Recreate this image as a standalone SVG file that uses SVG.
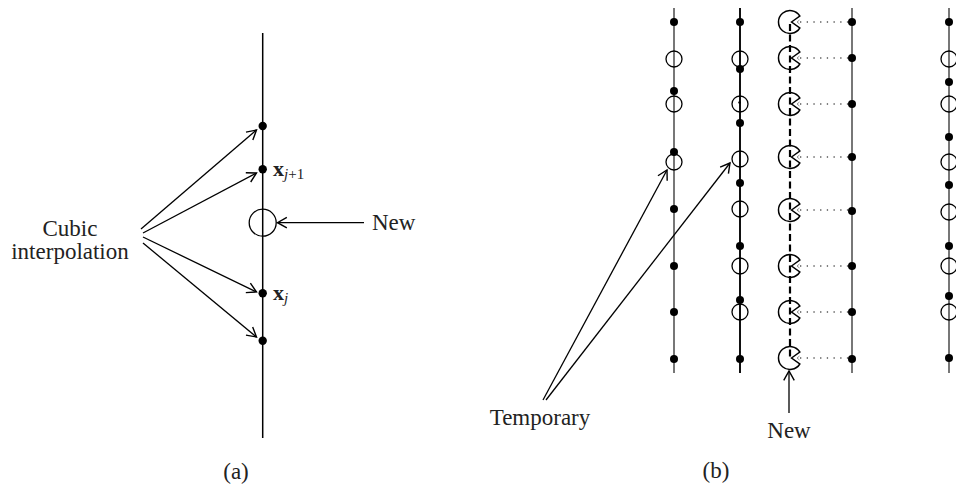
<svg xmlns="http://www.w3.org/2000/svg" width="956" height="487" viewBox="0 0 956 487">
<defs>
<marker id="ah" markerUnits="userSpaceOnUse" markerWidth="14" markerHeight="14" viewBox="-10 -6 12 12" refX="0" refY="0" orient="auto">
<path d="M-8,-4.5 L0,0 L-8,4.5" fill="none" stroke="#000" stroke-width="1.2"/>
</marker>
<g id="pac"><path d="M1.5,0 L9.8,-6 A11.5,11.5 0 1 0 9.8,6 Z" fill="none" stroke="#000" stroke-width="1.5"/><path d="M9.5,-2 L7,0 L9.5,2" fill="none" stroke="#777" stroke-width="0.8"/></g>
</defs>
<style>
text{font-family:"Liberation Serif","DejaVu Serif",serif;fill:#222}
.lbl{font-size:23px}
.axis{stroke:#000;stroke-width:1.5;fill:none}
.gray{stroke:#555;stroke-width:1.6;fill:none}
.blk{stroke:#111;stroke-width:2;fill:none}
.dot{fill:#000}
.oc{fill:none;stroke:#000;stroke-width:1.3}
.conn{stroke:#000;stroke-width:1.3;fill:none;marker-end:url(#ah)}
.dotted{stroke:#555;stroke-width:1.3;stroke-dasharray:1.3 5.4;fill:none}
.dash{stroke:#000;stroke-width:2.2;stroke-dasharray:7 3.5;fill:none}
</style>
<rect width="956" height="487" fill="#fff"/>

<!-- Panel (a) -->
<g id="a-axis">
<line class="axis" x1="262.7" y1="33" x2="262.7" y2="438"/>
<circle class="dot" cx="262.7" cy="126" r="4.2"/>
<circle class="dot" cx="262.7" cy="169.3" r="4.2"/>
<circle class="dot" cx="262.7" cy="293.3" r="4.2"/>
<circle class="dot" cx="262.7" cy="340.7" r="4.2"/>
</g>
<g id="a-new-node">
<circle cx="262.7" cy="222.7" r="13.5" fill="none" stroke="#000" stroke-width="1.3"/>
</g>
<g id="a-labels">
<text x="273" y="176" font-size="22" font-weight="bold">x<tspan font-size="15" font-style="italic" font-weight="normal" dy="3">j</tspan><tspan font-size="15" font-weight="normal">+1</tspan></text>
<text x="273" y="300" font-size="22" font-weight="bold">x<tspan font-size="15" font-style="italic" font-weight="normal" dy="3">j</tspan></text>
<text class="lbl" x="70" y="236" text-anchor="middle">Cubic</text>
<text class="lbl" x="70" y="259" text-anchor="middle">interpolation</text>
<text class="lbl" x="372" y="230">New</text>
<text class="lbl" x="236" y="479" text-anchor="middle">(a)</text>
</g>
<g id="a-connectors">
<line class="conn" x1="141" y1="229" x2="256.5" y2="130"/>
<line class="conn" x1="143" y1="233" x2="256.5" y2="173"/>
<line class="conn" x1="143" y1="237" x2="256.5" y2="292"/>
<line class="conn" x1="143" y1="243" x2="256.5" y2="337"/>
<line class="conn" x1="364" y1="222.7" x2="277.5" y2="222.7"/>
</g>

<!-- Panel (b) -->
<g id="b-line1">
<line class="gray" x1="674" y1="8" x2="674" y2="373"/>
<circle class="dot" cx="674" cy="22" r="4"/>
<circle class="oc" cx="674" cy="59" r="8"/>
<circle class="dot" cx="674" cy="91" r="4"/>
<circle class="oc" cx="674" cy="104" r="8"/>
<circle class="dot" cx="674" cy="152" r="4"/>
<circle class="oc" cx="674" cy="162" r="8"/>
<circle class="dot" cx="674" cy="209" r="4"/>
<circle class="dot" cx="674" cy="266" r="4"/>
<circle class="dot" cx="674" cy="312" r="4"/>
<circle class="dot" cx="674" cy="359" r="4"/>
</g>
<g id="b-line2">
<line class="blk" x1="740" y1="8" x2="740" y2="373"/>
<circle class="dot" cx="740" cy="22" r="4"/>
<circle class="oc" cx="740" cy="59" r="8"/>
<circle class="dot" cx="740" cy="69" r="4"/>
<circle class="oc" cx="740" cy="104" r="8"/>
<circle class="dot" cx="739.5" cy="102.5" r="1.2"/>
<circle class="dot" cx="740" cy="123" r="4"/>
<circle class="oc" cx="740" cy="159" r="8"/>
<circle class="dot" cx="740" cy="183" r="4"/>
<circle class="oc" cx="740" cy="209" r="8"/>
<circle class="dot" cx="740" cy="246" r="4"/>
<circle class="oc" cx="740" cy="266" r="8"/>
<circle class="dot" cx="740" cy="300" r="4"/>
<circle class="oc" cx="740" cy="312" r="8"/>
<circle class="dot" cx="740" cy="359" r="4"/>
</g>
<g id="b-line3">
<line class="dash" x1="790" y1="24" x2="790" y2="358"/>
<use href="#pac" x="790" y="22"/>
<use href="#pac" x="790" y="58"/>
<use href="#pac" x="790" y="104"/>
<use href="#pac" x="790" y="157"/>
<use href="#pac" x="790" y="210"/>
<use href="#pac" x="790" y="266"/>
<use href="#pac" x="790" y="312"/>
<use href="#pac" x="790" y="358"/>
</g>
<g id="b-line4">
<line class="gray" x1="852" y1="8" x2="852" y2="373"/>
<circle class="dot" cx="852" cy="22" r="4"/>
<circle class="dot" cx="852" cy="58" r="4"/>
<circle class="dot" cx="852" cy="104" r="4"/>
<circle class="dot" cx="852" cy="157" r="4"/>
<circle class="dot" cx="852" cy="211" r="4"/>
<circle class="dot" cx="852" cy="266" r="4"/>
<circle class="dot" cx="852" cy="312" r="4"/>
<circle class="dot" cx="852" cy="359" r="4"/>
</g>
<g id="b-line5">
<line class="gray" x1="949" y1="8" x2="949" y2="373"/>
<circle class="dot" cx="949" cy="22" r="4"/>
<circle class="oc" cx="949" cy="59" r="8"/>
<circle class="dot" cx="949" cy="82" r="4"/>
<circle class="oc" cx="949" cy="104" r="8"/>
<circle class="dot" cx="949" cy="137" r="4"/>
<circle class="oc" cx="949" cy="162" r="8"/>
<circle class="dot" cx="949" cy="185" r="4"/>
<circle class="oc" cx="949" cy="212" r="8"/>
<circle class="dot" cx="949" cy="246" r="4"/>
<circle class="oc" cx="949" cy="266" r="8"/>
<circle class="dot" cx="949" cy="296" r="4"/>
<circle class="oc" cx="949" cy="312" r="8"/>
<circle class="dot" cx="949" cy="358" r="4"/>
</g>
<g id="b-connectors">
<path class="dotted" d="M800,22 H848 M800,58 H848 M800,104 H848 M800,157 H848 M800,210 H848 M800,266 H848 M800,312 H848 M800,358 H848"/>
<line class="conn" x1="543" y1="400" x2="667" y2="170"/>
<line class="conn" x1="546" y1="400" x2="730" y2="163"/>
<line class="conn" x1="789" y1="413" x2="789" y2="371"/>
</g>
<g id="b-labels">
<text class="lbl" x="540" y="425" text-anchor="middle">Temporary</text>
<text class="lbl" x="789" y="438" text-anchor="middle">New</text>
<text class="lbl" x="716" y="478" text-anchor="middle">(b)</text>
</g>
</svg>
